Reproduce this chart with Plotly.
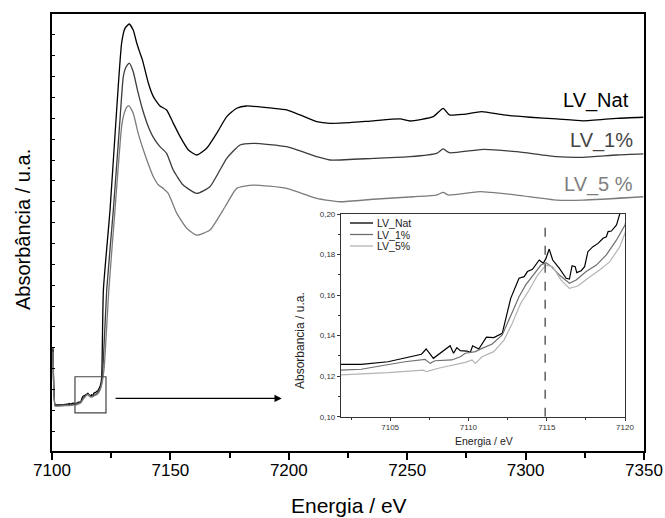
import plotly.graph_objects as go

# ---------------- data ----------------
nat_energy = [7100.4, 7101.3, 7101.86, 7103.15, 7104.86, 7107.0, 7107.3, 7107.76, 7108.83, 7109.05,
              7109.26, 7109.48, 7109.9, 7110.12, 7110.27, 7110.66, 7111.15, 7111.62, 7112.16, 7112.7,
              7113.23, 7113.56, 7113.77, 7114.09, 7114.52, 7114.78, 7114.95, 7115.16, 7115.38, 7115.81,
              7116.24, 7116.45, 7116.62, 7116.82, 7116.92, 7117.2, 7117.42, 7117.63, 7117.95, 7118.28,
              7118.6, 7118.81, 7118.92, 7119.13, 7119.46, 7119.67, 7119.78, 7120.2, 7120.6, 7121.0,
              7121.7, 7124.5, 7127.3, 7129.4, 7130.8, 7132.6, 7134.3, 7135.8, 7137.2, 7138.3,
              7140.7, 7142.8, 7145.6, 7148.4, 7151.2, 7154.1, 7157.6, 7161.1, 7165.3, 7169.6,
              7173.8, 7178.0, 7182.2, 7193.5, 7199.1, 7204.7, 7211.8, 7217.4, 7225.8, 7235.7,
              7247.0, 7251.2, 7261.0, 7265.2, 7267.8, 7273.7, 7281.5, 7290.6, 7301.9, 7313.1,
              7324.4, 7338.5, 7349.7]
nat_abs = [0.40, 0.126, 0.1258, 0.1258, 0.1271, 0.1308, 0.1334, 0.1288, 0.1350, 0.1313,
           0.1341, 0.1326, 0.1324, 0.1318, 0.1350, 0.1334, 0.1392, 0.1390, 0.1411, 0.1584,
           0.1683, 0.1691, 0.1716, 0.1727, 0.1773, 0.1757, 0.1781, 0.1827, 0.1773, 0.1732,
           0.1683, 0.1679, 0.1745, 0.1740, 0.1711, 0.1720, 0.1740, 0.1814, 0.1839, 0.1855,
           0.1880, 0.1888, 0.1913, 0.1916, 0.1946, 0.1995, 0.2020, 0.212, 0.225, 0.26,
           0.677, 1.060, 1.540, 1.860, 1.931, 1.952, 1.923, 1.860, 1.812, 1.775,
           1.668, 1.604, 1.559, 1.540, 1.477, 1.412, 1.348, 1.324, 1.356, 1.429,
           1.508, 1.548, 1.559, 1.548, 1.540, 1.516, 1.484, 1.476, 1.479, 1.488,
           1.497, 1.487, 1.508, 1.548, 1.516, 1.519, 1.532, 1.516, 1.505, 1.497,
           1.488, 1.500, 1.505]

p1_energy = [7100.4, 7101.3, 7101.86, 7103.15, 7105.94, 7107.23, 7107.55, 7107.87, 7108.94, 7109.48,
             7109.8, 7110.44, 7110.87, 7111.52, 7112.16, 7112.7, 7113.23, 7113.66, 7114.2, 7114.63,
             7114.95, 7115.27, 7115.81, 7116.45, 7116.88, 7117.52, 7118.17, 7118.81, 7119.46, 7120.0,
             7120.7, 7121.5, 7123.1, 7125.9, 7128.7, 7130.1, 7131.3, 7132.6, 7134.3, 7136.2,
             7138.3, 7141.2, 7143.5, 7145.6, 7148.4, 7151.2, 7155.4, 7161.1, 7166.7, 7173.8,
             7179.4, 7185.0, 7199.1, 7211.8, 7217.4, 7235.7, 7251.2, 7262.4, 7265.2, 7267.8,
             7282.1, 7296.2, 7313.1, 7324.4, 7338.5, 7349.7]
p1_abs = [0.39, 0.123, 0.1230, 0.1234, 0.1271, 0.1283, 0.1263, 0.1276, 0.1280, 0.1296,
          0.1313, 0.1321, 0.1337, 0.1359, 0.1403, 0.1494, 0.1592, 0.1650, 0.1707, 0.1748,
          0.1760, 0.1743, 0.1699, 0.1658, 0.1674, 0.1716, 0.1748, 0.1798, 0.1872, 0.1946,
          0.215, 0.30, 0.677, 1.060, 1.492, 1.699, 1.747, 1.764, 1.723, 1.630,
          1.540, 1.445, 1.395, 1.364, 1.332, 1.252, 1.180, 1.140, 1.172, 1.308,
          1.372, 1.380, 1.364, 1.316, 1.300, 1.308, 1.316, 1.332, 1.353, 1.335,
          1.351, 1.340, 1.316, 1.313, 1.324, 1.329]

p5_energy = [7100.4, 7101.3, 7101.86, 7104.86, 7107.1, 7107.33, 7108.08, 7108.94, 7109.8, 7110.23,
             7110.44, 7110.87, 7111.62, 7112.27, 7112.8, 7113.34, 7113.88, 7114.42, 7114.95, 7115.38,
             7115.92, 7116.45, 7116.99, 7117.63, 7118.38, 7119.03, 7119.67, 7120.0, 7121.0, 7122.0,
             7124.0, 7126.6, 7129.4, 7130.5, 7131.8, 7132.6, 7134.3, 7136.4, 7138.6, 7141.1,
             7142.8, 7145.0, 7147.0, 7149.1, 7152.7, 7156.9, 7161.1, 7166.7, 7173.1, 7178.0,
             7185.0, 7199.1, 7211.8, 7221.6, 7235.7, 7252.6, 7262.4, 7265.2, 7267.4, 7280.7,
             7296.2, 7313.1, 7324.4, 7349.7]
p5_abs = [0.38, 0.121, 0.1206, 0.1217, 0.1230, 0.1222, 0.1239, 0.1255, 0.1268, 0.1280,
          0.1263, 0.1296, 0.1321, 0.1378, 0.1461, 0.1559, 0.1625, 0.1699, 0.1748, 0.1740,
          0.1674, 0.1633, 0.1645, 0.1683, 0.1724, 0.1765, 0.1839, 0.1905, 0.225, 0.30,
          0.677, 1.060, 1.460, 1.524, 1.556, 1.559, 1.524, 1.428, 1.348, 1.268,
          1.220, 1.180, 1.164, 1.140, 1.044, 0.973, 0.940, 0.964, 1.076, 1.164,
          1.180, 1.164, 1.116, 1.100, 1.112, 1.124, 1.132, 1.145, 1.132, 1.148,
          1.132, 1.108, 1.108, 1.124]

series_names = ["LV_Nat", "LV_1%", "LV_5%"]
main_labels = ["LV_Nat", "LV_1%", "LV_5 %"]
edge_energy = 7114.9
edge_line_abs = [0.10, 0.195]

main_x_ticks = [7100, 7150, 7200, 7250, 7300, 7350]
inset_x_ticks = [7105, 7110, 7115, 7120]
inset_y_ticks = [0.10, 0.12, 0.14, 0.16, 0.18, 0.20]
inset_y_ticktext = ["0,10", "0,12", "0,14", "0,16", "0,18", "0,20"]

# zoom box & arrow (data coordinates of the main plot)
box_energy = [7109.7, 7122.8]
box_abs = [0.088, 0.261]
arrow_energy = [7126.2, 7197.0]
arrow_abs = 0.157

# ---------------- styling ----------------
main_colors = ["#000000", "#3c3c3c", "#7c7c7c"]
inset_colors = ["#000000", "#6e6e6e", "#b4b4b4"]
label_colors = ["#000000", "#444444", "#808080"]
FONT = "Arial, Liberation Sans, sans-serif"

W, H = 665, 518
L, R, T, B = 52, 21, 14, 67
pw, ph = W - L - R, H - T - B


def px2paper_x(px):
    return (px - L) / pw


def py2paper_y(py):
    return (H - B - py) / ph


fig = go.Figure()
energies = [nat_energy, p1_energy, p5_energy]
absorb = [nat_abs, p1_abs, p5_abs]

for e, a, c, n in zip(energies, absorb, main_colors, series_names):
    fig.add_trace(go.Scatter(x=e, y=a, mode="lines", line=dict(color=c, width=1.3, shape="spline", smoothing=0.5),
                             xaxis="x", yaxis="y", showlegend=False, name=n, hoverinfo="skip"))

for e, a, c, n in zip(energies, absorb, inset_colors, series_names):
    fig.add_trace(go.Scatter(x=e, y=a, mode="lines", line=dict(color=c, width=1.2),
                             xaxis="x2", yaxis="y2", showlegend=False, name=n))

fig.add_trace(go.Scatter(x=[edge_energy, edge_energy], y=edge_line_abs, mode="lines",
                         line=dict(color="#444444", width=1.3, dash="dash"),
                         xaxis="x2", yaxis="y2", showlegend=False))

annotations = []
# series labels on main plot (right-aligned, placed in paper space)
label_px_right = [631, 635, 635]
label_py = [100, 140, 185]
for lx, ly, t, c in zip(label_px_right, label_py, main_labels, label_colors):
    annotations.append(dict(x=px2paper_x(lx), y=py2paper_y(ly), xref="paper", yref="paper", text=t,
                            showarrow=False, xanchor="right", yanchor="middle",
                            font=dict(size=20, color=c, family=FONT)))

# arrow
annotations.append(dict(x=arrow_energy[1], y=arrow_abs, ax=arrow_energy[0], ay=arrow_abs,
                        xref="x", yref="y", axref="x", ayref="y", text="", showarrow=True,
                        arrowhead=2, arrowsize=1.2, arrowwidth=1.2, arrowcolor="#000000"))

# axis titles
annotations += [
    dict(x=px2paper_x(349), y=py2paper_y(506), xref="paper", yref="paper", text="Energia / eV",
         showarrow=False, xanchor="center", yanchor="middle", font=dict(size=21, color="#000", family=FONT)),
    dict(x=px2paper_x(23), y=py2paper_y(230), xref="paper", yref="paper", text="Absorbância / u.a.",
         showarrow=False, textangle=-90, xanchor="center", yanchor="middle",
         font=dict(size=20, color="#000", family=FONT)),
    dict(x=px2paper_x(484), y=py2paper_y(441), xref="paper", yref="paper", text="Energia / eV",
         showarrow=False, xanchor="center", yanchor="middle", font=dict(size=10.5, color="#222", family=FONT)),
    dict(x=px2paper_x(300), y=py2paper_y(341), xref="paper", yref="paper", text="Absorbancia / u.a.",
         showarrow=False, textangle=-90, xanchor="center", yanchor="middle",
         font=dict(size=12, color="#222", family=FONT)),
]

shapes = [dict(type="rect", xref="x", yref="y", x0=box_energy[0], x1=box_energy[1],
               y0=box_abs[0], y1=box_abs[1], line=dict(color="#444444", width=1.2))]

# hand-made inset legend (key lines + text)
legend_rows_py = [223, 234.5, 246]
for py, n, c in zip(legend_rows_py, series_names, inset_colors):
    shapes.append(dict(type="line", xref="paper", yref="paper", x0=px2paper_x(350), x1=px2paper_x(373),
                       y0=py2paper_y(py), y1=py2paper_y(py), line=dict(color=c, width=1.3)))
    annotations.append(dict(x=px2paper_x(375), y=py2paper_y(py), xref="paper", yref="paper", text=n,
                            showarrow=False, xanchor="left", yanchor="middle",
                            font=dict(size=10.5, color="#222", family=FONT)))

inset_dom_x = [px2paper_x(341), px2paper_x(625)]
inset_dom_y = [py2paper_y(416.7), py2paper_y(214)]

fig.update_layout(
    width=W, height=H,
    autosize=False,
    margin=dict(l=L, r=R, t=T, b=B, autoexpand=False),
    paper_bgcolor="white", plot_bgcolor="white",
    font=dict(family=FONT, color="#000"),
    showlegend=False,
    xaxis=dict(domain=[0, 1], range=[7100, 7350], tickvals=main_x_ticks, ticks="outside", ticklen=7,
               tickwidth=1.5, tickcolor="#000", showline=True, linewidth=2, linecolor="#000", mirror=True,
               showgrid=False, zeroline=False, automargin=False, ticklabelstandoff=-4,
               tickfont=dict(size=17, family=FONT, color="#000"),
               minor=dict(dtick=25, tick0=7100, ticks="outside", ticklen=5, tickwidth=1.5, tickcolor="#000")),
    yaxis=dict(domain=[0, 1], range=[-0.095, 2.0], dtick=0.1, tick0=0, ticks="inside", ticklen=3,
               tickwidth=1, tickcolor="#000", showticklabels=False, showline=True, linewidth=1.5,
               linecolor="#000", mirror=True, showgrid=False, zeroline=False, automargin=False),
    xaxis2=dict(domain=inset_dom_x, anchor="y2", range=[7101.86, 7120], tickvals=inset_x_ticks,
                ticks="outside", ticklen=3, tickwidth=1, tickcolor="#333", showline=True, linewidth=1.2,
                linecolor="#333", mirror=True, showgrid=False, zeroline=False, automargin=False,
                tickfont=dict(size=8, family=FONT, color="#333"),
                minor=dict(dtick=2.5, tick0=7100, ticks="outside", ticklen=2, tickcolor="#333")),
    yaxis2=dict(domain=inset_dom_y, anchor="x2", range=[0.10, 0.20], tickvals=inset_y_ticks,
                ticktext=inset_y_ticktext, ticks="outside", ticklen=3, tickwidth=1, tickcolor="#333",
                showline=True, linewidth=1.2, linecolor="#333", mirror=True, showgrid=False,
                zeroline=False, automargin=False, tickfont=dict(size=8, family=FONT, color="#333"),
                minor=dict(dtick=0.01, tick0=0.10, ticks="outside", ticklen=2, tickcolor="#333")),
    annotations=annotations,
    shapes=shapes,
)

fig.write_html("out.html", config={"displayModeBar": False, "responsive": False},
               post_script="document.body.style.margin='0';document.body.style.padding='0';"
                           "document.body.style.overflow='hidden';")
